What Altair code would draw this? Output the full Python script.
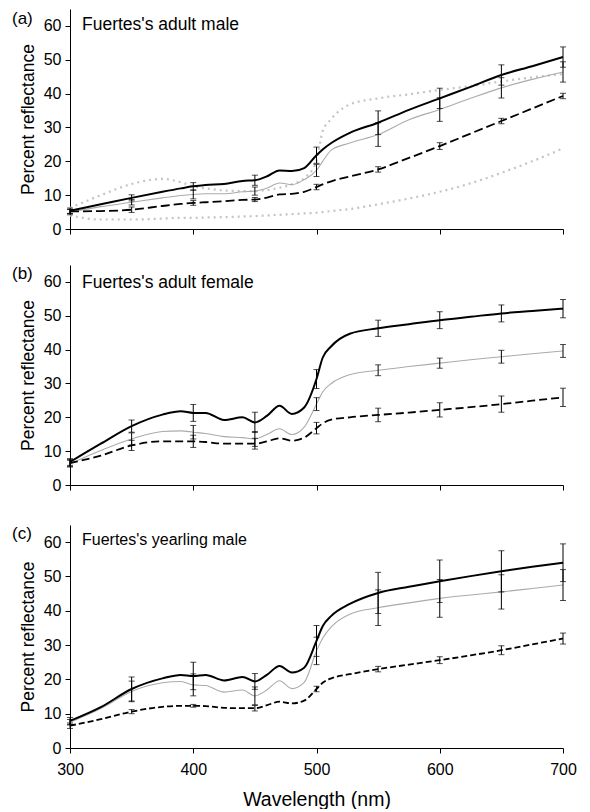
import altair as alt
import pandas as pd

FONT = "Liberation Sans"

# wavelength grid (nm) for the spectra
WL = [300, 325, 350, 375, 390, 400, 410, 425, 440, 450, 460, 470, 480, 490,
      500, 505, 512, 527, 550, 575, 600, 625, 650, 675, 700]
# wavelengths where error bars are drawn
ERR_WL = [300, 350, 400, 450, 500, 550, 600, 650, 700]

PANEL_LABELS = ["(a)", "(b)", "(c)"]
PANEL_TITLES = ["Fuertes's adult male", "Fuertes's adult female", "Fuertes's yearling male"]

# ---- panel (a) ----
A_BLACK = [5.4, 7.3, 9.2, 11.0, 12.0, 12.6, 13.0, 13.3, 14.2, 14.4, 15.6, 17.3, 17.1, 18.0,
           21.8, 23.5, 25.4, 28.4, 31.4, 35.2, 38.6, 42.0, 45.5, 48.1, 50.8]
A_GRAY = [5.0, 6.6, 7.9, 9.2, 9.9, 10.2, 10.4, 10.4, 11.0, 11.2, 12.1, 13.6, 13.1, 14.6,
          17.3, 20.0, 23.3, 25.4, 27.9, 32.3, 35.3, 38.6, 41.7, 44.2, 46.4]
A_DASH = [5.2, 5.3, 5.7, 6.8, 7.4, 7.7, 7.9, 8.2, 8.6, 8.7, 9.3, 10.2, 10.4, 11.0,
          12.4, 13.2, 14.1, 15.5, 17.6, 21.0, 24.5, 28.2, 31.9, 35.6, 39.3]
A_DOT_HI = [6.2, 10.0, 13.3, 14.8, 13.8, 12.6, 12.0, 11.4, 11.2, 11.2, 11.5, 12.2, 13.2, 15.0,
            20.0, 28.9, 32.5, 36.8, 38.6, 39.8, 41.1, 42.2, 43.6, 44.8, 45.8]
A_DOT_LO = [4.0, 2.8, 2.8, 3.1, 3.3, 3.3, 3.4, 3.5, 3.7, 3.8, 4.0, 4.2, 4.4, 4.6,
            4.8, 5.0, 5.3, 5.9, 7.3, 9.0, 11.0, 13.5, 16.6, 20.0, 23.8]
A_BLACK_ERR = [0.8, 0.9, 1.1, 1.5, 2.4, 3.5, 3.0, 3.0, 3.0]
A_GRAY_ERR = [0.8, 0.8, 1.3, 1.2, 1.8, 3.5, 3.5, 3.0, 3.0]
A_DASH_ERR = [0.6, 0.8, 0.7, 0.6, 0.8, 0.8, 1.0, 0.8, 0.8]

# ---- panel (b) ----
B_BLACK = [6.8, 12.2, 17.4, 20.8, 21.8, 21.3, 21.3, 19.2, 20.0, 18.5, 20.5, 23.4, 21.0, 22.9,
           31.3, 37.6, 41.0, 44.7, 46.3, 47.5, 48.7, 49.7, 50.7, 51.4, 52.1]
B_GRAY = [6.3, 10.2, 13.6, 15.8, 16.0, 15.6, 15.2, 14.3, 14.0, 13.6, 15.0, 16.6, 14.9, 17.1,
          23.9, 27.5, 30.0, 32.6, 33.9, 35.0, 36.0, 37.0, 37.9, 38.8, 39.6]
B_DASH = [6.5, 8.7, 11.7, 12.9, 12.9, 12.9, 12.7, 12.2, 12.2, 12.2, 12.9, 13.8, 13.1, 14.0,
          16.8, 18.2, 19.3, 20.0, 20.7, 21.4, 22.2, 23.0, 23.9, 24.9, 25.9]
B_BLACK_ERR = [1.0, 1.8, 2.5, 3.0, 2.8, 2.4, 2.5, 2.5, 2.7]
B_GRAY_ERR = [1.0, 1.8, 2.0, 2.2, 1.9, 1.6, 1.5, 1.9, 1.9]
B_DASH_ERR = [1.0, 1.5, 1.8, 1.6, 1.7, 2.0, 2.1, 2.4, 2.7]

# ---- panel (c) ----
C_BLACK = [7.9, 11.9, 17.2, 20.3, 21.3, 21.0, 21.3, 19.7, 20.7, 19.4, 21.4, 23.9, 22.0, 23.4,
           31.2, 35.5, 38.5, 42.0, 45.2, 47.0, 48.6, 50.1, 51.5, 52.8, 54.0]
C_GRAY = [7.5, 11.5, 16.5, 19.0, 19.4, 18.4, 18.2, 16.3, 16.9, 15.2, 17.0, 19.6, 17.3, 19.1,
          28.3, 32.0, 35.3, 39.0, 40.9, 42.3, 43.6, 44.6, 45.5, 46.5, 47.5]
C_DASH = [6.5, 8.4, 10.6, 12.0, 12.3, 12.3, 12.2, 11.7, 11.6, 11.6, 12.5, 13.5, 13.0, 13.8,
          17.2, 19.0, 20.3, 21.5, 23.0, 24.3, 25.6, 27.0, 28.5, 30.2, 31.9]
C_BLACK_ERR = [1.0, 3.5, 4.0, 2.3, 4.5, 6.0, 6.2, 6.0, 5.5]
C_GRAY_ERR = [0.8, 3.0, 3.2, 2.6, 4.0, 5.2, 5.5, 5.0, 4.5]
C_DASH_ERR = [0.8, 0.6, 0.4, 0.8, 0.8, 0.8, 1.0, 1.3, 1.6]

PANELS = [
    dict(black=A_BLACK, gray=A_GRAY, dash=A_DASH, dots=[A_DOT_HI, A_DOT_LO],
         errs=[(A_BLACK, A_BLACK_ERR), (A_GRAY, A_GRAY_ERR), (A_DASH, A_DASH_ERR)],
         dashpat=[9, 4], height=220, lab_y=10, tit_y=16, bottom=False),
    dict(black=B_BLACK, gray=B_GRAY, dash=B_DASH, dots=[],
         errs=[(B_BLACK, B_BLACK_ERR), (B_GRAY, B_GRAY_ERR), (B_DASH, B_DASH_ERR)],
         dashpat=[8, 4], height=220, lab_y=8.5, tit_y=17.5, bottom=False),
    dict(black=C_BLACK, gray=C_GRAY, dash=C_DASH, dots=[],
         errs=[(C_BLACK, C_BLACK_ERR), (C_GRAY, C_GRAY_ERR), (C_DASH, C_DASH_ERR)],
         dashpat=[6, 3], height=223, lab_y=8.5, tit_y=15, bottom=True),
]

W = 493


def make_panel(i, p):
    common = dict(values=[300, 400, 500, 600, 700], grid=False, domainColor="black",
                  tickColor="black", tickSize=5, labelFont=FONT, labelFontSize=16,
                  labelColor="black", labelPadding=8, labelFlush=False)
    if p["bottom"]:
        xaxis = alt.Axis(labels=True, title="Wavelength (nm)", titleFont=FONT,
                         titleFontSize=19.5, titleFontWeight="normal", titleColor="black",
                         titlePadding=13, **common)
    else:
        xaxis = alt.Axis(labels=False, title=None, **common)
    yaxis = alt.Axis(values=[0, 10, 20, 30, 40, 50, 60], grid=False, domainColor="black",
                     tickColor="black", tickSize=5, labelFont=FONT, labelFontSize=16,
                     labelColor="black", labelPadding=4, title="Percent reflectance",
                     titleFont=FONT, titleFontSize=17.5, titleFontWeight="normal",
                     titleColor="black", titlePadding=6)
    xs = alt.Scale(domain=[300, 700], nice=False, zero=False)
    ys = alt.Scale(domain=[0, 65], nice=False)

    def line_layer(vals, **mk):
        df = pd.DataFrame({"wl": WL, "v": vals})
        return alt.Chart(df).mark_line(interpolate="monotone", **mk).encode(
            x=alt.X("wl:Q", scale=xs, axis=xaxis),
            y=alt.Y("v:Q", scale=ys, axis=yaxis),
        )

    layers = []
    for d in p["dots"]:
        layers.append(line_layer(d, color="#c4c4c4", strokeWidth=2.2, strokeDash=[2, 4]))
    layers.append(line_layer(p["gray"], color="#ababab", strokeWidth=1.1))
    layers.append(line_layer(p["dash"], color="black", strokeWidth=1.8, strokeDash=p["dashpat"]))
    layers.append(line_layer(p["black"], color="black", strokeWidth=2.0))

    rows = []
    for series, err in p["errs"]:
        for w, e in zip(ERR_WL, err):
            m = series[WL.index(w)]
            rows.append({"wl": w, "lo": m - e, "hi": m + e})
    edf = pd.DataFrame(rows)
    base = alt.Chart(edf)
    layers.append(base.mark_rule(color="black", strokeWidth=1).encode(
        x=alt.X("wl:Q", scale=xs, axis=xaxis), y=alt.Y("lo:Q", scale=ys, axis=yaxis), y2="hi:Q"))
    layers.append(base.mark_tick(color="black", orient="horizontal", size=6, thickness=1).encode(
        x=alt.X("wl:Q", scale=xs, axis=xaxis), y=alt.Y("lo:Q", scale=ys, axis=yaxis)))
    layers.append(base.mark_tick(color="black", orient="horizontal", size=6, thickness=1).encode(
        x=alt.X("wl:Q", scale=xs, axis=xaxis), y=alt.Y("hi:Q", scale=ys, axis=yaxis)))

    tdf = pd.DataFrame({"lab": [PANEL_LABELS[i]], "tit": [PANEL_TITLES[i]]})
    layers.append(alt.Chart(tdf).mark_text(align="left", baseline="middle", font=FONT,
                                           fontSize=17, color="black").encode(
        x=alt.value(-58), y=alt.value(p["lab_y"]), text="lab:N"))
    tsize = 17.5 if i < 2 else 16
    layers.append(alt.Chart(tdf).mark_text(align="left", baseline="middle", font=FONT,
                                           fontSize=tsize, color="black").encode(
        x=alt.value(12), y=alt.value(p["tit_y"]), text="tit:N"))

    return alt.layer(*layers).properties(width=W, height=p["height"])


pa, pb, pc = [make_panel(i, p) for i, p in enumerate(PANELS)]

chart = alt.vconcat(
    alt.vconcat(pa, pb, spacing=27),
    pc,
    spacing=31,
).properties(
    padding={"left": 4, "top": 1, "right": 5, "bottom": 0}
).configure_view(stroke=None)

chart.save("out.html", embed_options={"renderer": "svg", "actions": False})
